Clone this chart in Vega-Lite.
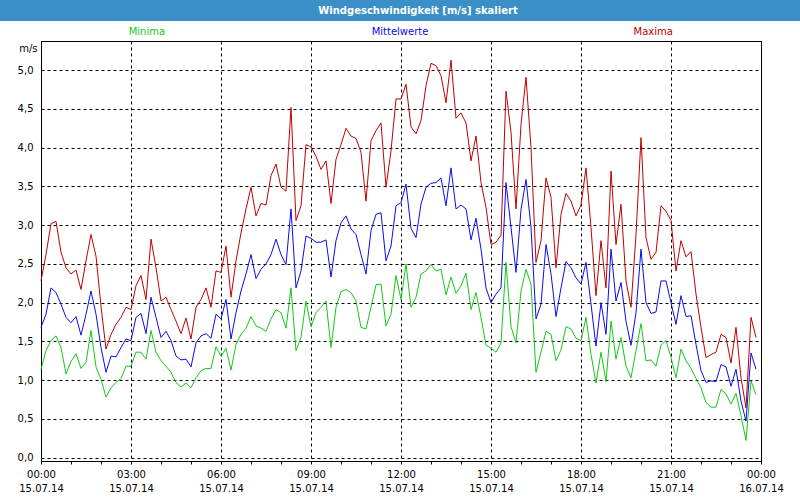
{
"$schema":"https://vega.github.io/schema/vega-lite/v6.json",
"padding":0,"background":"white","spacing":0,
"config":{"style":{"guide-label":{"lineBreak":"\n"}}},
"vconcat":[
{"width":800,"height":21,"view":{"fill":"#3b8fc7","stroke":null},
 "data":{"values":[{"title":"Windgeschwindigkeit [m/s] skaliert"}]},
 "mark":{"type":"text","color":"white","font":"DejaVu Sans","fontWeight":"bold","fontSize":10,"dx":18,"baseline":"middle"},
 "encoding":{"text":{"field":"title"}}},
{"width":800,"height":19,"view":{"stroke":null},
 "data":{"values":[{"s":"Minima"},{"s":"Mittelwerte"},{"s":"Maxima"}]},
 "mark":{"type":"text","fontSize":10,"font":"DejaVu Sans","baseline":"middle","dy":1.5},
 "encoding":{
  "x":{"field":"s","type":"nominal","scale":{"type":"point","domain":["Minima","Mittelwerte","Maxima"],"padding":0.58},"axis":null},
  "text":{"field":"s"},
  "color":{"field":"s","type":"nominal","scale":{"domain":["Minima","Mittelwerte","Maxima"],"range":["#14c814","#0a0af0","#c00000"]},"legend":null}}},
{"spacing":0,"hconcat":[
{"width":1,"height":10,"view":{"stroke":null},"data":{"values":[]},"mark":"point"},
{"width":720,"height":420,"view":{"stroke":"black","strokeWidth":1,"fill":"white"},
"data":{"values":[
{"t":"2014-07-15 00:00","s":"Minima","v":1.14},{"t":"2014-07-15 00:10","s":"Minima","v":1.38},{"t":"2014-07-15 00:20","s":"Minima","v":1.51},{"t":"2014-07-15 00:30","s":"Minima","v":1.57},{"t":"2014-07-15 00:40","s":"Minima","v":1.42},{"t":"2014-07-15 00:50","s":"Minima","v":1.08},
{"t":"2014-07-15 01:00","s":"Minima","v":1.24},{"t":"2014-07-15 01:10","s":"Minima","v":1.34},{"t":"2014-07-15 01:20","s":"Minima","v":1.15},{"t":"2014-07-15 01:30","s":"Minima","v":1.23},{"t":"2014-07-15 01:40","s":"Minima","v":1.64},{"t":"2014-07-15 01:50","s":"Minima","v":1.17},
{"t":"2014-07-15 02:00","s":"Minima","v":1.01},{"t":"2014-07-15 02:10","s":"Minima","v":0.78},{"t":"2014-07-15 02:20","s":"Minima","v":0.90},{"t":"2014-07-15 02:30","s":"Minima","v":0.97},{"t":"2014-07-15 02:40","s":"Minima","v":1.02},{"t":"2014-07-15 02:50","s":"Minima","v":1.18},
{"t":"2014-07-15 03:00","s":"Minima","v":1.18},{"t":"2014-07-15 03:10","s":"Minima","v":1.36},{"t":"2014-07-15 03:20","s":"Minima","v":1.36},{"t":"2014-07-15 03:30","s":"Minima","v":1.27},{"t":"2014-07-15 03:40","s":"Minima","v":1.64},{"t":"2014-07-15 03:50","s":"Minima","v":1.36},
{"t":"2014-07-15 04:00","s":"Minima","v":1.25},{"t":"2014-07-15 04:10","s":"Minima","v":1.18},{"t":"2014-07-15 04:20","s":"Minima","v":1.10},{"t":"2014-07-15 04:30","s":"Minima","v":0.97},{"t":"2014-07-15 04:40","s":"Minima","v":0.91},{"t":"2014-07-15 04:50","s":"Minima","v":0.96},
{"t":"2014-07-15 05:00","s":"Minima","v":0.90},{"t":"2014-07-15 05:10","s":"Minima","v":1.03},{"t":"2014-07-15 05:20","s":"Minima","v":1.12},{"t":"2014-07-15 05:30","s":"Minima","v":1.15},{"t":"2014-07-15 05:40","s":"Minima","v":1.15},{"t":"2014-07-15 05:50","s":"Minima","v":1.43},
{"t":"2014-07-15 06:00","s":"Minima","v":1.31},{"t":"2014-07-15 06:10","s":"Minima","v":1.41},{"t":"2014-07-15 06:20","s":"Minima","v":1.13},{"t":"2014-07-15 06:30","s":"Minima","v":1.46},{"t":"2014-07-15 06:40","s":"Minima","v":1.59},{"t":"2014-07-15 06:50","s":"Minima","v":1.67},
{"t":"2014-07-15 07:00","s":"Minima","v":1.82},{"t":"2014-07-15 07:10","s":"Minima","v":1.70},{"t":"2014-07-15 07:20","s":"Minima","v":1.67},{"t":"2014-07-15 07:30","s":"Minima","v":1.63},{"t":"2014-07-15 07:40","s":"Minima","v":1.79},{"t":"2014-07-15 07:50","s":"Minima","v":1.91},
{"t":"2014-07-15 08:00","s":"Minima","v":1.87},{"t":"2014-07-15 08:10","s":"Minima","v":1.67},{"t":"2014-07-15 08:20","s":"Minima","v":2.19},{"t":"2014-07-15 08:30","s":"Minima","v":1.38},{"t":"2014-07-15 08:40","s":"Minima","v":1.55},{"t":"2014-07-15 08:50","s":"Minima","v":2.02},
{"t":"2014-07-15 09:00","s":"Minima","v":1.69},{"t":"2014-07-15 09:10","s":"Minima","v":1.87},{"t":"2014-07-15 09:20","s":"Minima","v":1.94},{"t":"2014-07-15 09:30","s":"Minima","v":2.02},{"t":"2014-07-15 09:40","s":"Minima","v":1.42},{"t":"2014-07-15 09:50","s":"Minima","v":1.94},
{"t":"2014-07-15 10:00","s":"Minima","v":2.14},{"t":"2014-07-15 10:10","s":"Minima","v":2.17},{"t":"2014-07-15 10:20","s":"Minima","v":2.13},{"t":"2014-07-15 10:30","s":"Minima","v":2.02},{"t":"2014-07-15 10:40","s":"Minima","v":1.68},{"t":"2014-07-15 10:50","s":"Minima","v":1.66},
{"t":"2014-07-15 11:00","s":"Minima","v":1.94},{"t":"2014-07-15 11:10","s":"Minima","v":2.23},{"t":"2014-07-15 11:20","s":"Minima","v":2.24},{"t":"2014-07-15 11:30","s":"Minima","v":1.70},{"t":"2014-07-15 11:40","s":"Minima","v":1.85},{"t":"2014-07-15 11:50","s":"Minima","v":2.35},
{"t":"2014-07-15 12:00","s":"Minima","v":2.04},{"t":"2014-07-15 12:10","s":"Minima","v":2.50},{"t":"2014-07-15 12:20","s":"Minima","v":1.94},{"t":"2014-07-15 12:30","s":"Minima","v":2.07},{"t":"2014-07-15 12:40","s":"Minima","v":2.37},{"t":"2014-07-15 12:50","s":"Minima","v":2.41},
{"t":"2014-07-15 13:00","s":"Minima","v":2.49},{"t":"2014-07-15 13:10","s":"Minima","v":2.41},{"t":"2014-07-15 13:20","s":"Minima","v":2.43},{"t":"2014-07-15 13:30","s":"Minima","v":2.10},{"t":"2014-07-15 13:40","s":"Minima","v":2.33},{"t":"2014-07-15 13:50","s":"Minima","v":2.12},
{"t":"2014-07-15 14:00","s":"Minima","v":2.22},{"t":"2014-07-15 14:10","s":"Minima","v":2.38},{"t":"2014-07-15 14:20","s":"Minima","v":1.91},{"t":"2014-07-15 14:30","s":"Minima","v":2.13},{"t":"2014-07-15 14:40","s":"Minima","v":1.81},{"t":"2014-07-15 14:50","s":"Minima","v":1.45},
{"t":"2014-07-15 15:00","s":"Minima","v":1.41},{"t":"2014-07-15 15:10","s":"Minima","v":1.36},{"t":"2014-07-15 15:20","s":"Minima","v":1.48},{"t":"2014-07-15 15:30","s":"Minima","v":2.52},{"t":"2014-07-15 15:40","s":"Minima","v":1.69},{"t":"2014-07-15 15:50","s":"Minima","v":1.48},
{"t":"2014-07-15 16:00","s":"Minima","v":2.15},{"t":"2014-07-15 16:10","s":"Minima","v":2.43},{"t":"2014-07-15 16:20","s":"Minima","v":2.24},{"t":"2014-07-15 16:30","s":"Minima","v":1.10},{"t":"2014-07-15 16:40","s":"Minima","v":1.36},{"t":"2014-07-15 16:50","s":"Minima","v":1.63},
{"t":"2014-07-15 17:00","s":"Minima","v":1.59},{"t":"2014-07-15 17:10","s":"Minima","v":1.25},{"t":"2014-07-15 17:20","s":"Minima","v":1.39},{"t":"2014-07-15 17:30","s":"Minima","v":1.69},{"t":"2014-07-15 17:40","s":"Minima","v":1.66},{"t":"2014-07-15 17:50","s":"Minima","v":1.54},
{"t":"2014-07-15 18:00","s":"Minima","v":1.51},{"t":"2014-07-15 18:10","s":"Minima","v":1.81},{"t":"2014-07-15 18:20","s":"Minima","v":1.33},{"t":"2014-07-15 18:30","s":"Minima","v":0.96},{"t":"2014-07-15 18:40","s":"Minima","v":1.36},{"t":"2014-07-15 18:50","s":"Minima","v":0.98},
{"t":"2014-07-15 19:00","s":"Minima","v":1.76},{"t":"2014-07-15 19:10","s":"Minima","v":1.27},{"t":"2014-07-15 19:20","s":"Minima","v":1.55},{"t":"2014-07-15 19:30","s":"Minima","v":1.18},{"t":"2014-07-15 19:40","s":"Minima","v":1.03},{"t":"2014-07-15 19:50","s":"Minima","v":1.38},
{"t":"2014-07-15 20:00","s":"Minima","v":1.73},{"t":"2014-07-15 20:10","s":"Minima","v":1.25},{"t":"2014-07-15 20:20","s":"Minima","v":1.26},{"t":"2014-07-15 20:30","s":"Minima","v":1.18},{"t":"2014-07-15 20:40","s":"Minima","v":1.45},{"t":"2014-07-15 20:50","s":"Minima","v":1.51},
{"t":"2014-07-15 21:00","s":"Minima","v":1.29},{"t":"2014-07-15 21:10","s":"Minima","v":1.03},{"t":"2014-07-15 21:20","s":"Minima","v":1.40},{"t":"2014-07-15 21:30","s":"Minima","v":1.25},{"t":"2014-07-15 21:40","s":"Minima","v":1.15},{"t":"2014-07-15 21:50","s":"Minima","v":1.02},
{"t":"2014-07-15 22:00","s":"Minima","v":0.90},{"t":"2014-07-15 22:10","s":"Minima","v":0.71},{"t":"2014-07-15 22:20","s":"Minima","v":0.65},{"t":"2014-07-15 22:30","s":"Minima","v":0.65},{"t":"2014-07-15 22:40","s":"Minima","v":0.88},{"t":"2014-07-15 22:50","s":"Minima","v":0.82},
{"t":"2014-07-15 23:00","s":"Minima","v":0.69},{"t":"2014-07-15 23:10","s":"Minima","v":0.83},{"t":"2014-07-15 23:20","s":"Minima","v":0.54},{"t":"2014-07-15 23:30","s":"Minima","v":0.22},{"t":"2014-07-15 23:40","s":"Minima","v":0.99},{"t":"2014-07-15 23:50","s":"Minima","v":0.81},
{"t":"2014-07-15 00:00","s":"Mittelwerte","v":1.68},{"t":"2014-07-15 00:10","s":"Mittelwerte","v":1.85},{"t":"2014-07-15 00:20","s":"Mittelwerte","v":2.19},{"t":"2014-07-15 00:30","s":"Mittelwerte","v":2.13},{"t":"2014-07-15 00:40","s":"Mittelwerte","v":1.98},{"t":"2014-07-15 00:50","s":"Mittelwerte","v":1.81},
{"t":"2014-07-15 01:00","s":"Mittelwerte","v":1.74},{"t":"2014-07-15 01:10","s":"Mittelwerte","v":1.82},{"t":"2014-07-15 01:20","s":"Mittelwerte","v":1.58},{"t":"2014-07-15 01:30","s":"Mittelwerte","v":1.85},{"t":"2014-07-15 01:40","s":"Mittelwerte","v":2.15},{"t":"2014-07-15 01:50","s":"Mittelwerte","v":1.85},
{"t":"2014-07-15 02:00","s":"Mittelwerte","v":1.42},{"t":"2014-07-15 02:10","s":"Mittelwerte","v":1.10},{"t":"2014-07-15 02:20","s":"Mittelwerte","v":1.31},{"t":"2014-07-15 02:30","s":"Mittelwerte","v":1.30},{"t":"2014-07-15 02:40","s":"Mittelwerte","v":1.42},{"t":"2014-07-15 02:50","s":"Mittelwerte","v":1.53},
{"t":"2014-07-15 03:00","s":"Mittelwerte","v":1.51},{"t":"2014-07-15 03:10","s":"Mittelwerte","v":1.81},{"t":"2014-07-15 03:20","s":"Mittelwerte","v":1.86},{"t":"2014-07-15 03:30","s":"Mittelwerte","v":1.60},{"t":"2014-07-15 03:40","s":"Mittelwerte","v":2.07},{"t":"2014-07-15 03:50","s":"Mittelwerte","v":1.81},
{"t":"2014-07-15 04:00","s":"Mittelwerte","v":1.55},{"t":"2014-07-15 04:10","s":"Mittelwerte","v":1.63},{"t":"2014-07-15 04:20","s":"Mittelwerte","v":1.51},{"t":"2014-07-15 04:30","s":"Mittelwerte","v":1.31},{"t":"2014-07-15 04:40","s":"Mittelwerte","v":1.26},{"t":"2014-07-15 04:50","s":"Mittelwerte","v":1.27},
{"t":"2014-07-15 05:00","s":"Mittelwerte","v":1.17},{"t":"2014-07-15 05:10","s":"Mittelwerte","v":1.48},{"t":"2014-07-15 05:20","s":"Mittelwerte","v":1.57},{"t":"2014-07-15 05:30","s":"Mittelwerte","v":1.60},{"t":"2014-07-15 05:40","s":"Mittelwerte","v":1.54},{"t":"2014-07-15 05:50","s":"Mittelwerte","v":1.85},
{"t":"2014-07-15 06:00","s":"Mittelwerte","v":1.79},{"t":"2014-07-15 06:10","s":"Mittelwerte","v":2.04},{"t":"2014-07-15 06:20","s":"Mittelwerte","v":1.53},{"t":"2014-07-15 06:30","s":"Mittelwerte","v":1.87},{"t":"2014-07-15 06:40","s":"Mittelwerte","v":2.15},{"t":"2014-07-15 06:50","s":"Mittelwerte","v":2.37},
{"t":"2014-07-15 07:00","s":"Mittelwerte","v":2.62},{"t":"2014-07-15 07:10","s":"Mittelwerte","v":2.31},{"t":"2014-07-15 07:20","s":"Mittelwerte","v":2.43},{"t":"2014-07-15 07:30","s":"Mittelwerte","v":2.50},{"t":"2014-07-15 07:40","s":"Mittelwerte","v":2.62},{"t":"2014-07-15 07:50","s":"Mittelwerte","v":2.82},
{"t":"2014-07-15 08:00","s":"Mittelwerte","v":2.62},{"t":"2014-07-15 08:10","s":"Mittelwerte","v":2.49},{"t":"2014-07-15 08:20","s":"Mittelwerte","v":3.21},{"t":"2014-07-15 08:30","s":"Mittelwerte","v":2.19},{"t":"2014-07-15 08:40","s":"Mittelwerte","v":2.41},{"t":"2014-07-15 08:50","s":"Mittelwerte","v":2.86},
{"t":"2014-07-15 09:00","s":"Mittelwerte","v":2.83},{"t":"2014-07-15 09:10","s":"Mittelwerte","v":2.78},{"t":"2014-07-15 09:20","s":"Mittelwerte","v":2.78},{"t":"2014-07-15 09:30","s":"Mittelwerte","v":2.81},{"t":"2014-07-15 09:40","s":"Mittelwerte","v":2.33},{"t":"2014-07-15 09:50","s":"Mittelwerte","v":2.80},
{"t":"2014-07-15 10:00","s":"Mittelwerte","v":3.03},{"t":"2014-07-15 10:10","s":"Mittelwerte","v":3.12},{"t":"2014-07-15 10:20","s":"Mittelwerte","v":2.95},{"t":"2014-07-15 10:30","s":"Mittelwerte","v":2.88},{"t":"2014-07-15 10:40","s":"Mittelwerte","v":2.62},{"t":"2014-07-15 10:50","s":"Mittelwerte","v":2.37},
{"t":"2014-07-15 11:00","s":"Mittelwerte","v":2.93},{"t":"2014-07-15 11:10","s":"Mittelwerte","v":3.14},{"t":"2014-07-15 11:20","s":"Mittelwerte","v":3.16},{"t":"2014-07-15 11:30","s":"Mittelwerte","v":2.54},{"t":"2014-07-15 11:40","s":"Mittelwerte","v":2.73},{"t":"2014-07-15 11:50","s":"Mittelwerte","v":3.25},
{"t":"2014-07-15 12:00","s":"Mittelwerte","v":3.29},{"t":"2014-07-15 12:10","s":"Mittelwerte","v":3.53},{"t":"2014-07-15 12:20","s":"Mittelwerte","v":2.96},{"t":"2014-07-15 12:30","s":"Mittelwerte","v":2.84},{"t":"2014-07-15 12:40","s":"Mittelwerte","v":3.27},{"t":"2014-07-15 12:50","s":"Mittelwerte","v":3.49},
{"t":"2014-07-15 13:00","s":"Mittelwerte","v":3.54},{"t":"2014-07-15 13:10","s":"Mittelwerte","v":3.55},{"t":"2014-07-15 13:20","s":"Mittelwerte","v":3.61},{"t":"2014-07-15 13:30","s":"Mittelwerte","v":3.25},{"t":"2014-07-15 13:40","s":"Mittelwerte","v":3.74},{"t":"2014-07-15 13:50","s":"Mittelwerte","v":3.21},
{"t":"2014-07-15 14:00","s":"Mittelwerte","v":3.26},{"t":"2014-07-15 14:10","s":"Mittelwerte","v":3.21},{"t":"2014-07-15 14:20","s":"Mittelwerte","v":2.81},{"t":"2014-07-15 14:30","s":"Mittelwerte","v":3.09},{"t":"2014-07-15 14:40","s":"Mittelwerte","v":2.69},{"t":"2014-07-15 14:50","s":"Mittelwerte","v":2.19},
{"t":"2014-07-15 15:00","s":"Mittelwerte","v":2.00},{"t":"2014-07-15 15:10","s":"Mittelwerte","v":2.11},{"t":"2014-07-15 15:20","s":"Mittelwerte","v":2.19},{"t":"2014-07-15 15:30","s":"Mittelwerte","v":3.55},{"t":"2014-07-15 15:40","s":"Mittelwerte","v":2.97},{"t":"2014-07-15 15:50","s":"Mittelwerte","v":2.39},
{"t":"2014-07-15 16:00","s":"Mittelwerte","v":3.20},{"t":"2014-07-15 16:10","s":"Mittelwerte","v":3.59},{"t":"2014-07-15 16:20","s":"Mittelwerte","v":2.97},{"t":"2014-07-15 16:30","s":"Mittelwerte","v":1.79},{"t":"2014-07-15 16:40","s":"Mittelwerte","v":1.98},{"t":"2014-07-15 16:50","s":"Mittelwerte","v":2.75},
{"t":"2014-07-15 17:00","s":"Mittelwerte","v":2.37},{"t":"2014-07-15 17:10","s":"Mittelwerte","v":1.82},{"t":"2014-07-15 17:20","s":"Mittelwerte","v":2.19},{"t":"2014-07-15 17:30","s":"Mittelwerte","v":2.53},{"t":"2014-07-15 17:40","s":"Mittelwerte","v":2.45},{"t":"2014-07-15 17:50","s":"Mittelwerte","v":2.32},
{"t":"2014-07-15 18:00","s":"Mittelwerte","v":2.24},{"t":"2014-07-15 18:10","s":"Mittelwerte","v":2.52},{"t":"2014-07-15 18:20","s":"Mittelwerte","v":1.98},{"t":"2014-07-15 18:30","s":"Mittelwerte","v":1.44},{"t":"2014-07-15 18:40","s":"Mittelwerte","v":2.00},{"t":"2014-07-15 18:50","s":"Mittelwerte","v":1.59},
{"t":"2014-07-15 19:00","s":"Mittelwerte","v":2.69},{"t":"2014-07-15 19:10","s":"Mittelwerte","v":2.02},{"t":"2014-07-15 19:20","s":"Mittelwerte","v":2.26},{"t":"2014-07-15 19:30","s":"Mittelwerte","v":1.76},{"t":"2014-07-15 19:40","s":"Mittelwerte","v":1.45},{"t":"2014-07-15 19:50","s":"Mittelwerte","v":1.87},
{"t":"2014-07-15 20:00","s":"Mittelwerte","v":2.69},{"t":"2014-07-15 20:10","s":"Mittelwerte","v":2.00},{"t":"2014-07-15 20:20","s":"Mittelwerte","v":1.86},{"t":"2014-07-15 20:30","s":"Mittelwerte","v":1.88},{"t":"2014-07-15 20:40","s":"Mittelwerte","v":2.28},{"t":"2014-07-15 20:50","s":"Mittelwerte","v":2.28},
{"t":"2014-07-15 21:00","s":"Mittelwerte","v":2.00},{"t":"2014-07-15 21:10","s":"Mittelwerte","v":1.72},{"t":"2014-07-15 21:20","s":"Mittelwerte","v":2.09},{"t":"2014-07-15 21:30","s":"Mittelwerte","v":1.82},{"t":"2014-07-15 21:40","s":"Mittelwerte","v":1.83},{"t":"2014-07-15 21:50","s":"Mittelwerte","v":1.46},
{"t":"2014-07-15 22:00","s":"Mittelwerte","v":1.12},{"t":"2014-07-15 22:10","s":"Mittelwerte","v":0.97},{"t":"2014-07-15 22:20","s":"Mittelwerte","v":0.99},{"t":"2014-07-15 22:30","s":"Mittelwerte","v":0.98},{"t":"2014-07-15 22:40","s":"Mittelwerte","v":1.20},{"t":"2014-07-15 22:50","s":"Mittelwerte","v":1.17},
{"t":"2014-07-15 23:00","s":"Mittelwerte","v":0.92},{"t":"2014-07-15 23:10","s":"Mittelwerte","v":1.14},{"t":"2014-07-15 23:20","s":"Mittelwerte","v":0.73},{"t":"2014-07-15 23:30","s":"Mittelwerte","v":0.47},{"t":"2014-07-15 23:40","s":"Mittelwerte","v":1.35},{"t":"2014-07-15 23:50","s":"Mittelwerte","v":1.14},
{"t":"2014-07-15 00:00","s":"Maxima","v":2.28},{"t":"2014-07-15 00:10","s":"Maxima","v":2.62},{"t":"2014-07-15 00:20","s":"Maxima","v":3.02},{"t":"2014-07-15 00:30","s":"Maxima","v":3.05},{"t":"2014-07-15 00:40","s":"Maxima","v":2.65},{"t":"2014-07-15 00:50","s":"Maxima","v":2.45},
{"t":"2014-07-15 01:00","s":"Maxima","v":2.37},{"t":"2014-07-15 01:10","s":"Maxima","v":2.42},{"t":"2014-07-15 01:20","s":"Maxima","v":2.17},{"t":"2014-07-15 01:30","s":"Maxima","v":2.54},{"t":"2014-07-15 01:40","s":"Maxima","v":2.88},{"t":"2014-07-15 01:50","s":"Maxima","v":2.60},
{"t":"2014-07-15 02:00","s":"Maxima","v":1.95},{"t":"2014-07-15 02:10","s":"Maxima","v":1.40},{"t":"2014-07-15 02:20","s":"Maxima","v":1.59},{"t":"2014-07-15 02:30","s":"Maxima","v":1.72},{"t":"2014-07-15 02:40","s":"Maxima","v":1.81},{"t":"2014-07-15 02:50","s":"Maxima","v":1.94},
{"t":"2014-07-15 03:00","s":"Maxima","v":1.91},{"t":"2014-07-15 03:10","s":"Maxima","v":2.22},{"t":"2014-07-15 03:20","s":"Maxima","v":2.35},{"t":"2014-07-15 03:30","s":"Maxima","v":2.04},{"t":"2014-07-15 03:40","s":"Maxima","v":2.82},{"t":"2014-07-15 03:50","s":"Maxima","v":2.45},
{"t":"2014-07-15 04:00","s":"Maxima","v":2.02},{"t":"2014-07-15 04:10","s":"Maxima","v":2.07},{"t":"2014-07-15 04:20","s":"Maxima","v":1.91},{"t":"2014-07-15 04:30","s":"Maxima","v":1.76},{"t":"2014-07-15 04:40","s":"Maxima","v":1.60},{"t":"2014-07-15 04:50","s":"Maxima","v":1.80},
{"t":"2014-07-15 05:00","s":"Maxima","v":1.53},{"t":"2014-07-15 05:10","s":"Maxima","v":1.94},{"t":"2014-07-15 05:20","s":"Maxima","v":2.04},{"t":"2014-07-15 05:30","s":"Maxima","v":2.19},{"t":"2014-07-15 05:40","s":"Maxima","v":1.94},{"t":"2014-07-15 05:50","s":"Maxima","v":2.41},
{"t":"2014-07-15 06:00","s":"Maxima","v":2.39},{"t":"2014-07-15 06:10","s":"Maxima","v":2.73},{"t":"2014-07-15 06:20","s":"Maxima","v":2.07},{"t":"2014-07-15 06:30","s":"Maxima","v":2.54},{"t":"2014-07-15 06:40","s":"Maxima","v":2.90},{"t":"2014-07-15 06:50","s":"Maxima","v":3.21},
{"t":"2014-07-15 07:00","s":"Maxima","v":3.49},{"t":"2014-07-15 07:10","s":"Maxima","v":3.12},{"t":"2014-07-15 07:20","s":"Maxima","v":3.28},{"t":"2014-07-15 07:30","s":"Maxima","v":3.26},{"t":"2014-07-15 07:40","s":"Maxima","v":3.64},{"t":"2014-07-15 07:50","s":"Maxima","v":3.79},
{"t":"2014-07-15 08:00","s":"Maxima","v":3.49},{"t":"2014-07-15 08:10","s":"Maxima","v":3.44},{"t":"2014-07-15 08:20","s":"Maxima","v":4.52},{"t":"2014-07-15 08:30","s":"Maxima","v":3.06},{"t":"2014-07-15 08:40","s":"Maxima","v":3.25},{"t":"2014-07-15 08:50","s":"Maxima","v":4.04},
{"t":"2014-07-15 09:00","s":"Maxima","v":4.01},{"t":"2014-07-15 09:10","s":"Maxima","v":3.89},{"t":"2014-07-15 09:20","s":"Maxima","v":3.72},{"t":"2014-07-15 09:30","s":"Maxima","v":3.83},{"t":"2014-07-15 09:40","s":"Maxima","v":3.28},{"t":"2014-07-15 09:50","s":"Maxima","v":3.85},
{"t":"2014-07-15 10:00","s":"Maxima","v":4.04},{"t":"2014-07-15 10:10","s":"Maxima","v":4.25},{"t":"2014-07-15 10:20","s":"Maxima","v":4.15},{"t":"2014-07-15 10:30","s":"Maxima","v":4.12},{"t":"2014-07-15 10:40","s":"Maxima","v":3.94},{"t":"2014-07-15 10:50","s":"Maxima","v":3.31},
{"t":"2014-07-15 11:00","s":"Maxima","v":4.09},{"t":"2014-07-15 11:10","s":"Maxima","v":4.22},{"t":"2014-07-15 11:20","s":"Maxima","v":4.32},{"t":"2014-07-15 11:30","s":"Maxima","v":3.49},{"t":"2014-07-15 11:40","s":"Maxima","v":3.96},{"t":"2014-07-15 11:50","s":"Maxima","v":4.63},
{"t":"2014-07-15 12:00","s":"Maxima","v":4.63},{"t":"2014-07-15 12:10","s":"Maxima","v":4.82},{"t":"2014-07-15 12:20","s":"Maxima","v":4.27},{"t":"2014-07-15 12:30","s":"Maxima","v":4.18},{"t":"2014-07-15 12:40","s":"Maxima","v":4.35},{"t":"2014-07-15 12:50","s":"Maxima","v":4.80},
{"t":"2014-07-15 13:00","s":"Maxima","v":5.09},{"t":"2014-07-15 13:10","s":"Maxima","v":5.06},{"t":"2014-07-15 13:20","s":"Maxima","v":4.93},{"t":"2014-07-15 13:30","s":"Maxima","v":4.58},{"t":"2014-07-15 13:40","s":"Maxima","v":5.13},{"t":"2014-07-15 13:50","s":"Maxima","v":4.38},
{"t":"2014-07-15 14:00","s":"Maxima","v":4.45},{"t":"2014-07-15 14:10","s":"Maxima","v":4.32},{"t":"2014-07-15 14:20","s":"Maxima","v":3.83},{"t":"2014-07-15 14:30","s":"Maxima","v":4.15},{"t":"2014-07-15 14:40","s":"Maxima","v":3.55},{"t":"2014-07-15 14:50","s":"Maxima","v":3.23},
{"t":"2014-07-15 15:00","s":"Maxima","v":2.75},{"t":"2014-07-15 15:10","s":"Maxima","v":2.78},{"t":"2014-07-15 15:20","s":"Maxima","v":2.87},{"t":"2014-07-15 15:30","s":"Maxima","v":4.73},{"t":"2014-07-15 15:40","s":"Maxima","v":4.20},{"t":"2014-07-15 15:50","s":"Maxima","v":3.21},
{"t":"2014-07-15 16:00","s":"Maxima","v":4.30},{"t":"2014-07-15 16:10","s":"Maxima","v":4.91},{"t":"2014-07-15 16:20","s":"Maxima","v":4.00},{"t":"2014-07-15 16:30","s":"Maxima","v":2.52},{"t":"2014-07-15 16:40","s":"Maxima","v":2.80},{"t":"2014-07-15 16:50","s":"Maxima","v":3.61},
{"t":"2014-07-15 17:00","s":"Maxima","v":3.36},{"t":"2014-07-15 17:10","s":"Maxima","v":2.45},{"t":"2014-07-15 17:20","s":"Maxima","v":3.14},{"t":"2014-07-15 17:30","s":"Maxima","v":3.41},{"t":"2014-07-15 17:40","s":"Maxima","v":3.31},{"t":"2014-07-15 17:50","s":"Maxima","v":3.12},
{"t":"2014-07-15 18:00","s":"Maxima","v":3.26},{"t":"2014-07-15 18:10","s":"Maxima","v":3.74},{"t":"2014-07-15 18:20","s":"Maxima","v":2.97},{"t":"2014-07-15 18:30","s":"Maxima","v":2.09},{"t":"2014-07-15 18:40","s":"Maxima","v":2.80},{"t":"2014-07-15 18:50","s":"Maxima","v":2.19},
{"t":"2014-07-15 19:00","s":"Maxima","v":3.70},{"t":"2014-07-15 19:10","s":"Maxima","v":2.75},{"t":"2014-07-15 19:20","s":"Maxima","v":3.27},{"t":"2014-07-15 19:30","s":"Maxima","v":2.28},{"t":"2014-07-15 19:40","s":"Maxima","v":1.94},{"t":"2014-07-15 19:50","s":"Maxima","v":2.88},
{"t":"2014-07-15 20:00","s":"Maxima","v":4.13},{"t":"2014-07-15 20:10","s":"Maxima","v":2.84},{"t":"2014-07-15 20:20","s":"Maxima","v":2.56},{"t":"2014-07-15 20:30","s":"Maxima","v":2.65},{"t":"2014-07-15 20:40","s":"Maxima","v":3.25},{"t":"2014-07-15 20:50","s":"Maxima","v":3.18},
{"t":"2014-07-15 21:00","s":"Maxima","v":3.06},{"t":"2014-07-15 21:10","s":"Maxima","v":2.41},{"t":"2014-07-15 21:20","s":"Maxima","v":2.80},{"t":"2014-07-15 21:30","s":"Maxima","v":2.59},{"t":"2014-07-15 21:40","s":"Maxima","v":2.66},{"t":"2014-07-15 21:50","s":"Maxima","v":2.11},
{"t":"2014-07-15 22:00","s":"Maxima","v":1.68},{"t":"2014-07-15 22:10","s":"Maxima","v":1.29},{"t":"2014-07-15 22:20","s":"Maxima","v":1.33},{"t":"2014-07-15 22:30","s":"Maxima","v":1.36},{"t":"2014-07-15 22:40","s":"Maxima","v":1.59},{"t":"2014-07-15 22:50","s":"Maxima","v":1.55},
{"t":"2014-07-15 23:00","s":"Maxima","v":1.22},{"t":"2014-07-15 23:10","s":"Maxima","v":1.68},{"t":"2014-07-15 23:20","s":"Maxima","v":1.03},{"t":"2014-07-15 23:30","s":"Maxima","v":0.64},{"t":"2014-07-15 23:40","s":"Maxima","v":1.81},{"t":"2014-07-15 23:50","s":"Maxima","v":1.55}
]},
"mark":{"type":"line","strokeWidth":1},
"encoding":{
 "x":{"field":"t","type":"temporal",
  "scale":{"domain":[{"year":2014,"month":7,"date":15,"hours":0},{"year":2014,"month":7,"date":16,"hours":0}]},
  "axis":{"title":null,
   "values":[{"year":2014,"month":7,"date":15,"hours":0},{"year":2014,"month":7,"date":15,"hours":1},{"year":2014,"month":7,"date":15,"hours":2},{"year":2014,"month":7,"date":15,"hours":3},{"year":2014,"month":7,"date":15,"hours":4},{"year":2014,"month":7,"date":15,"hours":5},{"year":2014,"month":7,"date":15,"hours":6},{"year":2014,"month":7,"date":15,"hours":7},{"year":2014,"month":7,"date":15,"hours":8},{"year":2014,"month":7,"date":15,"hours":9},{"year":2014,"month":7,"date":15,"hours":10},{"year":2014,"month":7,"date":15,"hours":11},{"year":2014,"month":7,"date":15,"hours":12},{"year":2014,"month":7,"date":15,"hours":13},{"year":2014,"month":7,"date":15,"hours":14},{"year":2014,"month":7,"date":15,"hours":15},{"year":2014,"month":7,"date":15,"hours":16},{"year":2014,"month":7,"date":15,"hours":17},{"year":2014,"month":7,"date":15,"hours":18},{"year":2014,"month":7,"date":15,"hours":19},{"year":2014,"month":7,"date":15,"hours":20},{"year":2014,"month":7,"date":15,"hours":21},{"year":2014,"month":7,"date":15,"hours":22},{"year":2014,"month":7,"date":15,"hours":23},{"year":2014,"month":7,"date":16,"hours":0}],
   "grid":true,"gridColor":"black","gridDash":[3,3],
   "gridOpacity":{"condition":{"test":"hours(datum.value) % 3 == 0","value":1},"value":0},
   "domainColor":"black","tickColor":"black","tickSize":3,
   "labelExpr":"hours(datum.value) % 3 == 0 ? timeFormat(datum.value,'%H:%M') + '\\n' + timeFormat(datum.value,'%d.%m.%y') : ''",
   "labelOverlap":false,"labelFlush":false,"labelBound":false,
   "labelColor":"black","labelFont":"DejaVu Sans","labelFontSize":10,"labelLineHeight":14,"labelPadding":5}},
 "y":{"field":"v","type":"quantitative",
  "scale":{"domain":[-0.045,5.378],"nice":false,"zero":false},
  "axis":{"values":[0,0.5,1,1.5,2,2.5,3,3.5,4,4.5,5],"grid":true,"gridColor":"black","gridDash":[3,3],"ticks":false,"domainColor":"black",
   "labelExpr":"replace(format(datum.value,'.1f'),'.',',')","labelPadding":8,"labelFont":"DejaVu Sans","labelFontSize":10,"labelColor":"black",
   "title":"m/s","titleAngle":0,"titleAlign":"right","titleBaseline":"middle","titleX":-4,"titleY":7,
   "titleFont":"DejaVu Sans","titleFontSize":10,"titleFontWeight":"normal","titleColor":"black","minExtent":39}},
 "color":{"field":"s","type":"nominal","scale":{"domain":["Minima","Mittelwerte","Maxima"],"range":["#14c814","#0a0af0","#c00000"]},"legend":null}
}}
]}
]
}
